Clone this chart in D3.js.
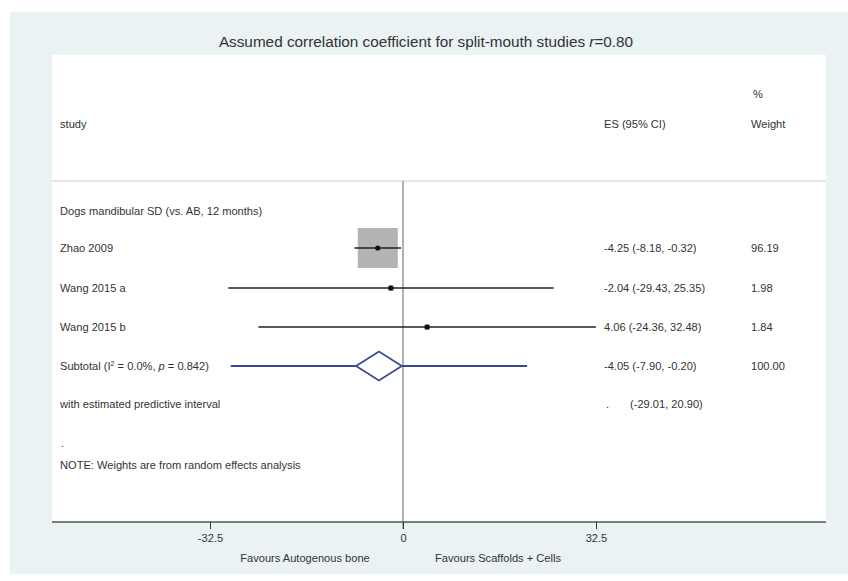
<!DOCTYPE html>
<html><head><meta charset="utf-8">
<script src="https://cdn.jsdelivr.net/npm/d3@7"></script>
<style>body{margin:0;background:#fff}svg{display:block}text{font-family:"Liberation Sans",Arial,sans-serif;fill:#333}</style>
</head><body><svg id="c" width="848" height="581"></svg>
<script>
const studies = ["Zhao 2009","Wang 2015 a","Wang 2015 b"];
const es = [-4.25,-2.04,4.06];
const lo = [-8.18,-29.43,-24.36];
const hi = [-0.32,25.35,32.48];
const weights = [96.19,1.98,1.84];
const esLabels = ["-4.25 (-8.18, -0.32)","-2.04 (-29.43, 25.35)","4.06 (-24.36, 32.48)"];
const wLabels = ["96.19","1.98","1.84"];
const pooled = {es:-4.05, lo:-7.90, hi:-0.20, plo:-29.01, phi:20.90};
const pooledLabel = "-4.05 (-7.90, -0.20)";
const predLabel = "(-29.01, 20.90)";
const xTicks = [-32.5, 0, 32.5];

const svg = d3.select("#c");
svg.append("rect").attr("x",10).attr("y",12).attr("width",838).attr("height",562).attr("fill","#eaf2f3");
svg.append("rect").attr("x",52).attr("y",55).attr("width",774).attr("height",467).attr("fill","#fff");

const title = svg.append("text").attr("x",426).attr("y",47).attr("text-anchor","middle").attr("font-size",15.3).attr("fill","#3a3a3a");
title.append("tspan").text("Assumed correlation coefficient for split-mouth studies ");
title.append("tspan").attr("font-style","italic").text("r");
title.append("tspan").text("=0.80");

const x = d3.scaleLinear().domain([-32.5,32.5]).range([210,596]);
const fs = 11.1;
const tx = 60, esx = 604, wx = 751;

// headers
svg.append("text").attr("x",wx+2).attr("y",98).attr("font-size",fs).text("%");
svg.append("text").attr("x",tx).attr("y",128).attr("font-size",fs).text("study");
svg.append("text").attr("x",esx).attr("y",128).attr("font-size",fs).text("ES (95% CI)");
svg.append("text").attr("x",wx).attr("y",128).attr("font-size",fs).text("Weight");
svg.append("line").attr("x1",52).attr("x2",826).attr("y1",181).attr("y2",181).attr("stroke","#ccc").attr("stroke-width",1.2);

// null line
svg.append("line").attr("x1",x(0)).attr("x2",x(0)).attr("y1",181).attr("y2",529).attr("stroke","#888").attr("stroke-width",1.3);

svg.append("text").attr("x",tx).attr("y",215).attr("font-size",fs).text("Dogs mandibular SD (vs. AB, 12 months)");

const rowY = [248,288,327];
const maxBox = 40;
studies.forEach((s,i)=>{
  const y = rowY[i];
  svg.append("text").attr("x",tx).attr("y",y+4).attr("font-size",fs).text(s);
  const b = maxBox*Math.sqrt(weights[i]/d3.max(weights));
  svg.append("rect").attr("x",x(es[i])-b/2).attr("y",y-b/2).attr("width",b).attr("height",b).attr("fill","#b4b4b4");
  svg.append("line").attr("x1",x(lo[i])).attr("x2",x(hi[i])).attr("y1",y).attr("y2",y).attr("stroke","#222").attr("stroke-width",1.5);
  svg.append("circle").attr("cx",x(es[i])).attr("cy",y).attr("r",2.6).attr("fill","#111");
  svg.append("text").attr("x",esx).attr("y",y+4).attr("font-size",fs).text(esLabels[i]);
  svg.append("text").attr("x",wx).attr("y",y+4).attr("font-size",fs).text(wLabels[i]);
});

// subtotal
const sy = 366;
const st = svg.append("text").attr("x",tx).attr("y",sy+4).attr("font-size",fs);
st.append("tspan").text("Subtotal  (I");
st.append("tspan").attr("font-size",7).attr("dy",-4).text("2");
st.append("tspan").attr("dy",4).text(" = 0.0%, ");
st.append("tspan").attr("font-style","italic").text("p");
st.append("tspan").text(" = 0.842)");
const blue = "#3d4b94";
svg.append("line").attr("x1",x(pooled.plo)).attr("x2",x(pooled.phi)).attr("y1",sy).attr("y2",sy).attr("stroke",blue).attr("stroke-width",1.8);
const dh = 14.5;
svg.append("path").attr("d",`M${x(pooled.lo)},${sy}L${x(pooled.es)},${sy-dh}L${x(pooled.hi)},${sy}L${x(pooled.es)},${sy+dh}Z`)
  .attr("fill","#fff").attr("stroke",blue).attr("stroke-width",1.8);
svg.append("text").attr("x",esx).attr("y",sy+4).attr("font-size",fs).text(pooledLabel);
svg.append("text").attr("x",wx).attr("y",sy+4).attr("font-size",fs).text("100.00");

svg.append("text").attr("x",tx).attr("y",408).attr("font-size",fs).text("with estimated predictive interval");
svg.append("text").attr("x",esx+2).attr("y",408).attr("font-size",fs).attr("fill","#aaa").text(".");
svg.append("text").attr("x",630).attr("y",408).attr("font-size",fs).text(predLabel);
svg.append("text").attr("x",tx+1).attr("y",447).attr("font-size",fs).attr("fill","#999").text(".");
svg.append("text").attr("x",tx).attr("y",469).attr("font-size",fs).text("NOTE: Weights are from random effects analysis");

// axis
const ax = svg.append("g").attr("transform","translate(0,522)");
ax.append("line").attr("x1",52).attr("x2",826).attr("y1",0).attr("y2",0).attr("stroke","#555").attr("stroke-width",1.3);
const axis = d3.axisBottom(x).tickValues(xTicks).tickFormat(d=>d).tickSize(7).tickPadding(5);
const g = ax.append("g").call(axis);
g.select(".domain").remove();
g.selectAll("line").attr("stroke","#333");
g.selectAll("text").attr("font-size",fs).attr("fill","#333").attr("font-family","Liberation Sans, Arial, sans-serif");

svg.append("text").attr("x",305).attr("y",562).attr("text-anchor","middle").attr("font-size",fs).text("Favours Autogenous bone");
svg.append("text").attr("x",498).attr("y",562).attr("text-anchor","middle").attr("font-size",fs).text("Favours Scaffolds + Cells");
</script></body></html>
